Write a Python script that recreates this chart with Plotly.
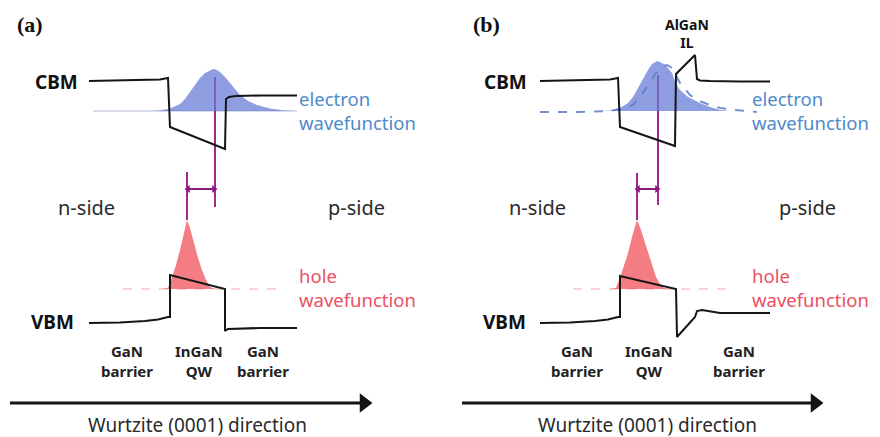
import plotly.graph_objects as go

# ---------------- data (schematic positions in picture units) ----------------
# Panel (a)
cbm_a_x = [89, 130, 160, 168, 170, 225, 226, 229, 236, 260, 297]
cbm_a_y = [81, 80.5, 79.5, 78, 127, 149, 99, 97, 96, 95.5, 95.5]
vbm_a_x = [89, 120, 145, 158, 168, 170, 170, 225, 225, 228, 260, 297]
vbm_a_y = [323, 322.5, 321, 319.5, 317, 317, 275, 289, 331, 329, 328, 328]

elec_a_x = [150, 160, 170, 180, 185, 190, 195, 200, 205, 210, 213, 216, 220, 225, 230, 235, 240, 248, 257, 270, 285, 297]
elec_a_y = [111, 110.5, 108.5, 104, 99, 92, 84, 78, 73, 70, 69, 69.5, 72, 77, 83, 90, 95, 101, 105, 108.5, 110.5, 111]
hole_a_x = [162, 168, 172, 176, 180, 184, 187, 190, 194, 198, 202, 206, 210, 215, 220]
hole_a_y = [289, 288, 277, 265, 250, 232, 220, 228, 243, 258, 270, 280, 287, 289, 289]

# Panel (b)
cbm_b_x = [540, 580, 610, 618, 620, 675, 676, 676, 695, 697, 700, 710, 740, 770]
cbm_b_y = [81, 80.5, 79.5, 78, 127, 146, 77, 74, 55, 79, 80.5, 81, 81.5, 81.5]
vbm_b_x = [540, 570, 595, 608, 618, 620, 620, 676, 677, 695, 697, 702, 720, 770]
vbm_b_y = [323, 322.5, 321, 319.5, 317, 317, 276, 289, 337, 317, 311, 310, 313, 313]

elec_b_x = [600, 610, 620, 628, 633, 638, 643, 648, 652, 657, 662, 667, 672, 676, 680, 688, 700, 710, 720, 730]
elec_b_y = [111, 110.5, 108, 103, 97, 88, 78, 70, 64, 61, 63, 67, 73, 84, 90, 97, 103, 107, 110, 111]
elec_b_ref_x = [540, 580, 610, 625, 633, 640, 647, 653, 658, 663, 667, 672, 680, 690, 697, 710, 720, 735, 757]
elec_b_ref_y = [112, 112, 111, 108, 105, 97, 87, 78, 70, 66, 65, 68, 83, 95, 100, 105, 108, 110, 112]
hole_b_x = [610, 616, 620, 624, 628, 632, 635, 637, 640, 644, 648, 652, 656, 660, 664, 670]
hole_b_y = [289, 288, 278, 266, 253, 237, 225, 220, 227, 240, 253, 266, 277, 284, 288, 289]

# wavefunction baselines (faint)
base_e_a = ([93, 297], [111, 111])
base_h_a = ([123, 278], [289, 289])
base_h_b = ([573, 735], [289, 289])

# electron/hole peak markers and the separation arrow
peak_e_x = [215, 658]
peak_e_top = [77, 75]
peak_e_bot = [207, 205]
peak_h_x = [187, 637]
peak_h_top = [172, 173]
peak_h_bot = [220, 220]
sep_y = [189, 189]

# direction arrow
dir_x0 = [10, 462]
dir_x1 = [372, 823]
dir_y = 403

# text
panel_tags = ["(a)", "(b)"]
tag_pos = [(30, 24), (486, 24)]
cbm_pos = [(56, 82), (505, 82)]
vbm_pos = [(52, 322), (504, 322)]
side_labels = ["n-side", "p-side"]
side_pos = [[(86, 207), (356, 207)], [(537, 207), (807, 207)]]
layer_labels = ["GaN<br>barrier", "InGaN<br>QW", "GaN<br>barrier"]
layer_x = [[127, 199, 263], [577, 649, 739]]
layer_y = 361
wf_x = [297, 750]
elec_label = "electron<br>wavefunction"
hole_label = "hole<br>wavefunction"
dir_text = "Wurtzite (0001) direction"
dir_text_x = [197, 647]

# ---------------- styles ----------------
BLACK = "#151515"
PURPLE = "#A0288F"
ARROW_P = "#8B1A7C"
E_FILL = "rgba(100,120,212,0.72)"
H_FILL = "rgba(240,88,95,0.78)"
E_TXT = "#4F8AC9"
H_TXT = "#EC4F63"
SANS = "Noto Sans, Open Sans, DejaVu Sans, sans-serif"
PAGE_OFFSET = 8  # default body margin of the html page

fig = go.Figure()

def line(x, y, color, width=2, dash=None):
    fig.add_trace(go.Scatter(x=x, y=y, mode="lines", hoverinfo="skip",
                             line=dict(color=color, width=width, dash=dash)))

def fill(x, y, color):
    fig.add_trace(go.Scatter(x=x, y=y, mode="lines", fill="toself", fillcolor=color,
                             hoverinfo="skip", line=dict(width=0, color=color)))

# faint baselines
line(*base_e_a, "rgba(170,180,210,0.6)", 1.5)
line(*base_h_a, "rgba(240,150,160,0.55)", 1.5, "dash")
line(*base_h_b, "rgba(240,150,160,0.55)", 1.5, "dash")

# purple peak markers (under fills)
for i in range(2):
    line([peak_e_x[i], peak_e_x[i]], [peak_e_top[i], peak_e_bot[i]], PURPLE, 2)
    line([peak_h_x[i], peak_h_x[i]], [peak_h_top[i], peak_h_bot[i]], PURPLE, 2)

# wavefunctions
fill(elec_a_x, elec_a_y, E_FILL)
fill(hole_a_x, hole_a_y, H_FILL)
fill(elec_b_x, elec_b_y, E_FILL)
fill(hole_b_x, hole_b_y, H_FILL)
line(elec_b_ref_x, elec_b_ref_y, "rgba(95,125,200,0.85)", 2, "dash")

# band edges
line(cbm_a_x, cbm_a_y, BLACK, 2)
line(vbm_a_x, vbm_a_y, BLACK, 2)
line(cbm_b_x, cbm_b_y, BLACK, 2)
line(vbm_b_x, vbm_b_y, BLACK, 2)

# separation arrows
for i in range(2):
    xs = [peak_h_x[i] + 1, peak_e_x[i] - 1]
    fig.add_trace(go.Scatter(x=xs, y=sep_y, mode="lines+markers", hoverinfo="skip",
                             line=dict(color=ARROW_P, width=2),
                             marker=dict(symbol=["triangle-left", "triangle-right"], size=7,
                                         color=ARROW_P)))

# direction arrows
for i in range(2):
    line([dir_x0[i], dir_x1[i] - 10], [dir_y, dir_y], BLACK, 3)
    fig.add_trace(go.Scatter(x=[dir_x1[i] - 8], y=[dir_y], mode="markers", hoverinfo="skip",
                             marker=dict(symbol="triangle-right", size=17, color=BLACK,
                                         line=dict(width=0))))

def text(x, y, s, size, color="#111", bold=False, family=SANS, anchor="center"):
    fig.add_annotation(x=x, y=y, text=f"<b>{s}</b>" if bold else s, showarrow=False,
                       xanchor=anchor, yanchor="middle", align=anchor,
                       font=dict(size=size, color=color, family=family))

for i in range(2):
    text(*tag_pos[i], panel_tags[i], 22, "#111", True, "Liberation Serif, DejaVu Serif, serif")
    text(*cbm_pos[i], "CBM", 19, "#111", True)
    text(*vbm_pos[i], "VBM", 19, "#111", True)
    for j in range(2):
        text(*side_pos[i][j], side_labels[j], 20, "#2a2a2a")
    for j in range(3):
        fig.add_annotation(x=layer_x[i][j], y=layer_y, text=f"<b>{layer_labels[j]}</b>",
                           showarrow=False, xanchor="center", yanchor="middle",
                           font=dict(size=15, color="#222", family=SANS))
    text(wf_x[i], 110, elec_label, 18.5, E_TXT, anchor="left")
    text(wf_x[i], 287, hole_label, 18.5, H_TXT, anchor="left")
    text(dir_text_x[i], 425, dir_text, 19, "#2a2a2a")

fig.add_annotation(x=687, y=33, text="<b>AlGaN<br>IL</b>", showarrow=False,
                   xanchor="center", yanchor="middle",
                   font=dict(size=14, color="#111", family=SANS))

W, H = 880, 437
fig.update_layout(
    width=W, height=H, margin=dict(l=0, r=0, t=0, b=0),
    paper_bgcolor="white", plot_bgcolor="white", showlegend=False,
    xaxis=dict(range=[PAGE_OFFSET, W + PAGE_OFFSET], visible=False, fixedrange=True),
    yaxis=dict(range=[H + PAGE_OFFSET, PAGE_OFFSET], visible=False, fixedrange=True),
)

fig.write_html("out.html")
